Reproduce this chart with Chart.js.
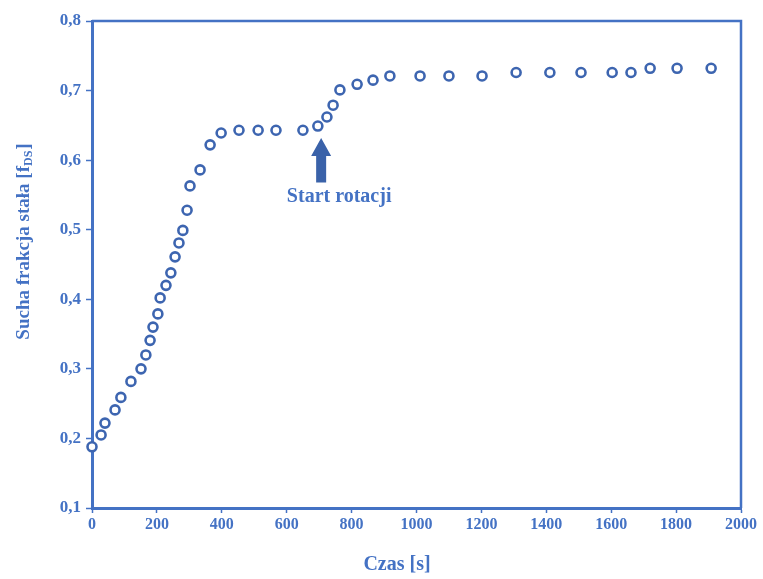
<!DOCTYPE html>
<html>
<head>
<meta charset="utf-8">
<script src="https://cdn.jsdelivr.net/npm/chart.js@4"></script>
<style>
  html, body { margin: 0; padding: 0; background: #fff; }
  #wrap { width: 763px; height: 579px; }
</style>
</head>
<body>
<div id="wrap"><canvas id="chart" width="763" height="579"></canvas></div>
<script>
// Czas [s]
const timeValues = [
    0, 28, 40, 71, 89, 120, 151, 166, 179, 188,
    203, 210, 228, 243, 256, 268, 280, 293, 302, 333,
    364, 398, 453, 512, 567, 650, 696, 724, 743, 764,
    817, 866, 918, 1011, 1100, 1202, 1307, 1411, 1507, 1603,
    1661, 1720, 1803, 1908
];
// Sucha frakcja stała [f_DS]
const dryFraction = [
    0.188, 0.205, 0.222, 0.241, 0.259, 0.282, 0.300, 0.320, 0.341, 0.360,
    0.379, 0.402, 0.420, 0.438, 0.461, 0.481, 0.499, 0.528, 0.563, 0.586,
    0.622, 0.639, 0.643, 0.643, 0.643, 0.643, 0.649, 0.662, 0.679, 0.701,
    0.709, 0.715, 0.721, 0.721, 0.721, 0.721, 0.726, 0.726, 0.726, 0.726,
    0.726, 0.732, 0.732, 0.732
];
const xTicks = [0, 200, 400, 600, 800, 1000, 1200, 1400, 1600, 1800, 2000];
const yTicks = [0.1, 0.2, 0.3, 0.4, 0.5, 0.6, 0.7, 0.8];

// Annotation: arrow pointing at the start of rotation
const rotationLabel = 'Start rotacji';
const rotationTime = 700;
const arrowTip = 0.632;
const arrowBase = 0.568;

const axisColor = '#4472C4';
const markerColor = '#3D65B0';
const arrowColor = '#3A62A9';
const fontFamily = '"Liberation Serif", "DejaVu Serif", serif';

const framePlugin = {
    id: 'frame',
    afterDraw(chart) {
        const ctx = chart.ctx;
        const a = chart.chartArea;
        const xs = chart.scales.x;
        const ys = chart.scales.y;
        ctx.save();

        // top and right border
        ctx.strokeStyle = axisColor;
        ctx.lineWidth = 2.5;
        ctx.beginPath();
        ctx.moveTo(a.left, a.top);
        ctx.lineTo(a.right, a.top);
        ctx.lineTo(a.right, a.bottom);
        ctx.stroke();

        // arrow
        const ax = xs.getPixelForValue(rotationTime) + 2;
        const tipY = ys.getPixelForValue(arrowTip);
        const baseY = ys.getPixelForValue(arrowBase);
        const headH = 18;
        ctx.fillStyle = arrowColor;
        ctx.beginPath();
        ctx.moveTo(ax, tipY);
        ctx.lineTo(ax + 10, tipY + headH);
        ctx.lineTo(ax + 5, tipY + headH);
        ctx.lineTo(ax + 5, baseY);
        ctx.lineTo(ax - 5, baseY);
        ctx.lineTo(ax - 5, tipY + headH);
        ctx.lineTo(ax - 10, tipY + headH);
        ctx.closePath();
        ctx.fill();

        // label under arrow
        ctx.fillStyle = axisColor;
        ctx.font = 'bold 20px ' + fontFamily;
        ctx.textAlign = 'center';
        ctx.textBaseline = 'middle';
        ctx.fillText(rotationLabel, ax + 18, baseY + 14);

        // x axis title
        ctx.font = 'bold 20px ' + fontFamily;
        ctx.fillText('Czas [s]', 397, 565);

        // y axis title with subscript
        ctx.translate(24, 242);
        ctx.rotate(-Math.PI / 2);
        const main = 'Sucha frakcja stała [f';
        const sub = 'DS';
        const tail = ']';
        ctx.font = 'bold 19px ' + fontFamily;
        const wMain = ctx.measureText(main).width;
        const wTail = ctx.measureText(tail).width;
        ctx.font = 'bold 12px ' + fontFamily;
        const wSub = ctx.measureText(sub).width;
        const x0 = -(wMain + wSub + wTail) / 2;
        ctx.textAlign = 'left';
        ctx.font = 'bold 19px ' + fontFamily;
        ctx.fillText(main, x0, 0);
        ctx.font = 'bold 12px ' + fontFamily;
        ctx.fillText(sub, x0 + wMain, 5);
        ctx.font = 'bold 19px ' + fontFamily;
        ctx.fillText(tail, x0 + wMain + wSub + 1, 0);
        ctx.restore();
    }
};

new Chart(document.getElementById('chart'), {
    type: 'scatter',
    data: {
        datasets: [{
            data: timeValues.map((t, i) => ({ x: t, y: dryFraction[i] })),
            pointRadius: 4.5,
            pointBorderWidth: 2.6,
            pointBorderColor: markerColor,
            pointBackgroundColor: '#ffffff',
            showLine: false,
            clip: false
        }]
    },
    options: {
        responsive: false,
        animation: false,
        layout: { padding: { top: 21, right: 22, left: 0, bottom: 0 } },
        plugins: {
            legend: { display: false },
            tooltip: { enabled: false }
        },
        scales: {
            x: {
                type: 'linear',
                min: 0,
                max: 2000,
                afterBuildTicks: scale => { scale.ticks = xTicks.map(v => ({ value: v })); },
                afterFit: scale => { scale.height = 71; },
                border: { color: axisColor, width: 3 },
                grid: {
                    drawOnChartArea: false,
                    color: axisColor,
                    tickLength: 5,
                    tickWidth: 1.5
                },
                ticks: {
                    color: axisColor,
                    padding: 2,
                    maxRotation: 0,
                    callback: v => String(v),
                    font: { family: fontFamily, size: 16, weight: 'bold' }
                }
            },
            y: {
                type: 'linear',
                min: 0.1,
                max: 0.8,
                afterBuildTicks: scale => { scale.ticks = yTicks.map(v => ({ value: v })); },
                afterFit: scale => { scale.width = 92; },
                border: { color: axisColor, width: 3 },
                grid: {
                    drawOnChartArea: false,
                    color: axisColor,
                    tickLength: 6,
                    tickWidth: 1.5
                },
                ticks: {
                    color: axisColor,
                    padding: 5,
                    callback: v => v.toFixed(1).replace('.', ','),
                    font: { family: fontFamily, size: 17, weight: 'bold' }
                }
            }
        }
    },
    plugins: [framePlugin]
});
</script>
</body>
</html>
